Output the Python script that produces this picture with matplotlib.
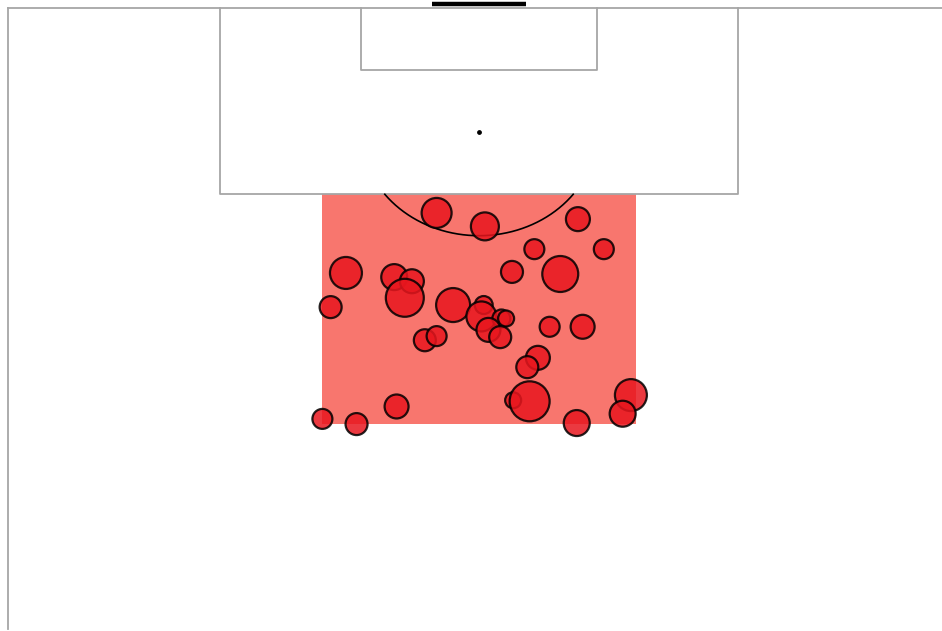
import numpy as np
import matplotlib.pyplot as plt
from matplotlib.patches import Rectangle

# pitch is 80 wide, 120 long; only the attacking half is shown, goal at the top
PITCH_W = 80.0
PITCH_L = 120.0

# zone highlighted in front of the box (x range, y range)
zone_x = [80.0 / 3, 160.0 / 3]
zone_y = [79.8, 102.0]

# shot locations (x across the pitch, y along it) and marker sizes
shot_x = [36.4, 40.5, 48.4, 50.6, 44.7, 42.8, 46.9, 28.7, 32.8, 34.3,
          33.7, 27.4, 37.8, 40.4, 40.2, 41.9, 42.3, 40.8, 41.8, 35.4,
          36.4, 46.0, 48.8, 45.0, 44.1, 42.9, 44.3, 52.9, 52.2, 48.3,
          33.0, 26.7, 29.6]
shot_y = [100.2, 98.9, 99.6, 96.7, 96.7, 94.5, 94.3, 94.4, 94.0, 93.6,
          92.0, 91.1, 91.3, 91.3, 90.2, 90.0, 90.0, 88.9, 88.2, 87.9,
          88.3, 89.2, 89.2, 86.2, 85.3, 82.1, 82.0, 82.6, 80.8, 79.9,
          81.5, 80.3, 79.8]
shot_size = [466, 406, 298, 207, 207, 251, 671, 530, 350, 298,
             748, 251, 599, 168, 466, 168, 133, 298, 251, 251,
             207, 207, 298, 298, 251, 133, 829, 530, 350, 350,
             298, 207, 251]

fig = plt.figure(figsize=(9.42, 6.31), dpi=100)
ax = fig.add_axes([0, 0, 1, 1])
ax.set_xlim(-0.68, 79.32)
ax.set_ylim(59.81, 120.77)
ax.axis('off')

line_col = '#a6a6a6'
lw = 1.3

# outer lines
ax.plot([0, 0], [60, PITCH_L], color=line_col, lw=lw, zorder=2)
ax.plot([0, PITCH_W], [PITCH_L, PITCH_L], color=line_col, lw=lw, zorder=2)
ax.plot([PITCH_W, PITCH_W], [60, PITCH_L], color=line_col, lw=lw, zorder=2)

# 18 yard box and 6 yard box
ax.plot([18, 18, 62, 62], [120, 102, 102, 120], color=line_col, lw=lw, zorder=2)
ax.plot([30, 30, 50, 50], [120, 114, 114, 120], color=line_col, lw=lw, zorder=2)

# goal
ax.plot([36, 44], [120.4, 120.4], color='black', lw=3.2, solid_capstyle='butt', zorder=2)

# penalty spot and arc (arc in data units, outside the box only)
ax.scatter([40], [108], s=6, color='black', zorder=2)
a0 = np.arcsin(-6 / 10)
t = np.linspace(np.pi - a0, 2 * np.pi + a0, 200)
ax.plot(40 + 10 * np.cos(t), 108 + 10 * np.sin(t), color='black', lw=1.2, zorder=2)

# highlighted zone
ax.add_patch(Rectangle((zone_x[0], zone_y[0]), zone_x[1] - zone_x[0],
                       zone_y[1] - zone_y[0], facecolor='#f8766e',
                       edgecolor='none', zorder=1))

# shots
ax.scatter(shot_x, shot_y, s=shot_size, color='#e8161e', alpha=0.85,
           edgecolors='black', linewidths=1.6, zorder=3)

fig.savefig('out.png', dpi=100, facecolor='white')
